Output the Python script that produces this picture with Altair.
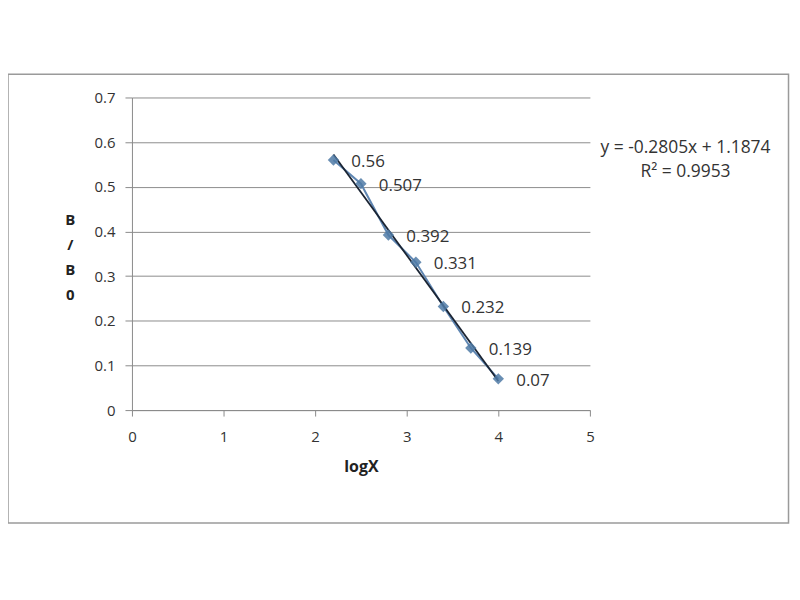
import altair as alt
import pandas as pd

log_x = [2.2, 2.5, 2.8, 3.1, 3.4, 3.7, 4.0]
b_b0 = [0.56, 0.507, 0.392, 0.331, 0.232, 0.139, 0.07]
labels = ["0.56", "0.507", "0.392", "0.331", "0.232", "0.139", "0.07"]
eq_lines = ["y = -0.2805x + 1.1874", "R² = 0.9953"]

df = pd.DataFrame({"x": log_x, "y": b_b0, "label": labels})

FONT = "Open Sans"
W, H = 460, 314

xs = alt.Scale(domain=[0, 5], nice=False)
ys = alt.Scale(domain=[0, 0.7], nice=False)

base = alt.Chart(df)

frame = alt.Chart(pd.DataFrame({"a": [0]})).mark_rect(
    fill=None, stroke="#9a9a9a", strokeWidth=1.5
).encode(
    x=alt.value(-124.5), x2=alt.value(659.5),
    y=alt.value(-23.4), y2=alt.value(427.3)
)

series = base.mark_line(color="#5f86b2", strokeWidth=2).encode(
    x=alt.X("x:Q", scale=xs, axis=alt.Axis(
        title="logX", values=[0, 1, 2, 3, 4, 5], format="d",
        grid=False, domainColor="#8a8a8a", tickColor="#8a8a8a", tickSize=6,
        labelFlush=False,
        labelFont=FONT, labelFontSize=15, labelColor="#333333", labelPadding=14,
        titleFont=FONT, titleFontSize=16, titleFontWeight="bold", titleColor="#222222",
        titlePadding=14)),
    y=alt.Y("y:Q", scale=ys, axis=alt.Axis(
        title=["B", "/", "B", "0"], titleAngle=0, titleAlign="center", titleBaseline="middle",
        titleX=-62.5, titleY=122.5, titleLineHeight=25,
        values=[0, 0.1, 0.2, 0.3, 0.4, 0.5, 0.6, 0.7],
        format="~g", labelFlush=False,
        grid=True, gridColor="#8c8c8c", gridWidth=1,
        domainColor="#8a8a8a", tickColor="#8a8a8a", tickSize=7,
        labelFont=FONT, labelFontSize=15, labelColor="#333333", labelPadding=10,
        titleFont=FONT, titleFontSize=15, titleFontWeight="bold", titleColor="#222222"))
)

trend = base.transform_regression("x", "y").mark_line(
    color="#1a2433", strokeWidth=1.8
).encode(x=alt.X("x:Q", scale=xs), y=alt.Y("y:Q", scale=ys))

points = base.mark_point(
    shape="diamond", filled=True, size=130, color="#4f7aa6", opacity=0.85
).encode(x=alt.X("x:Q", scale=xs), y=alt.Y("y:Q", scale=ys))

texts = base.mark_text(
    align="left", baseline="middle", dx=18, dy=2, font=FONT, fontSize=17, color="#333333"
).encode(x=alt.X("x:Q", scale=xs), y=alt.Y("y:Q", scale=ys), text="label:N")

eq = alt.Chart(pd.DataFrame({"t": eq_lines, "px": [556, 556], "py": [50.5, 75]})).mark_text(
    align="center", baseline="middle", font=FONT, fontSize=17.5, color="#333333"
).encode(x=alt.X("px:Q", scale=None), y=alt.Y("py:Q", scale=None), text="t:N")

chart = alt.layer(frame, series, trend, points, texts, eq).properties(
    width=W, height=H,
    autosize=alt.AutoSizeParams(type="none"),
    padding={"left": 124.5, "top": 88.7, "right": 203, "bottom": 130},
    background="white"
).configure_view(stroke=None)

chart.save("out.html", embed_options={"renderer": "svg", "actions": False})
